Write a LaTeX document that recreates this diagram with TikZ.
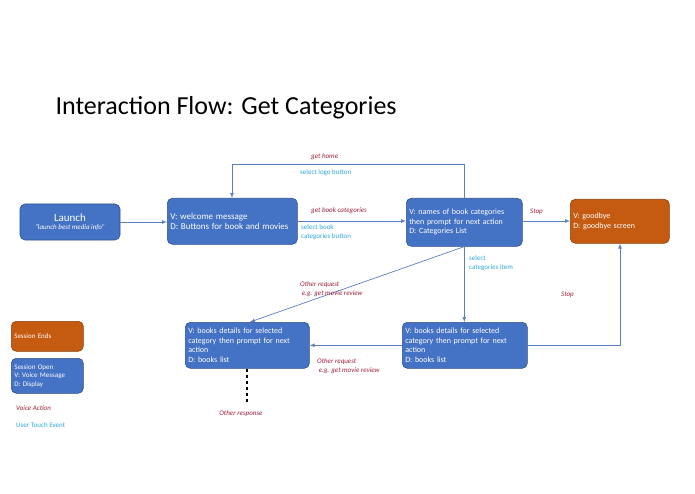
\documentclass[tikz,border=0pt]{standalone}
\usepackage{fontspec}
\setmainfont{Carlito}
\begin{document}
\definecolor{bx}{HTML}{4472C4}
\definecolor{org}{HTML}{C55A11}
\definecolor{ln}{HTML}{5B7FC4}
\definecolor{va}{HTML}{A0203A}
\definecolor{ut}{HTML}{2EA8D8}
\begin{tikzpicture}[x=1pt,y=-1pt,
  box/.style={draw=bx!70!black,line width=0.6pt,fill=bx,rounded corners=5pt,text=white,font=\fontsize{8}{9.5}\selectfont,align=left,inner sep=3pt,anchor=north west},
  obox/.style={box,fill=org,draw=org!70!black},
  arr/.style={draw=ln,line width=0.7pt,-latex},
  va/.style={text=va,font=\fontsize{7}{9}\selectfont\itshape,align=left,inner sep=0pt},
  ut/.style={text=ut,font=\fontsize{7}{9}\selectfont,align=left,inner sep=0pt}]
\useasboundingbox (0,0) rectangle (695,494);
\node[anchor=west,font=\fontsize{26}{30}\selectfont] (title) at (52,108) {Interaction Flow: Get Categories};
\node[box,minimum width=100pt,minimum height=36pt,align=center,anchor=center] (launch) at (70,222) {{\fontsize{11}{13}\selectfont Launch}\\[-1pt]{\fontsize{7}{8}\selectfont\itshape ``launch best media info''}};
\node[box,text width=124pt,minimum height=46pt] (wel) at (167,198) {{\fontsize{9}{11}\selectfont V: welcome message\\D: Buttons for book and movies}};
\node[box,text width=110pt,minimum height=48pt] (cat) at (406,198) {V: names of book categories\\then prompt for next action\\D: Categories List};
\node[obox,text width=93pt,minimum height=44pt] (bye) at (570,199) {V: goodbye\\D: goodbye screen};
\node[box,text width=119pt,minimum height=46pt] (b2) at (402,322) {V: books details for selected\\category then prompt for next\\action\\D: books list};
\node[box,text width=118pt,minimum height=46pt] (b1) at (185,322) {V: books details for selected\\category then prompt for next\\action\\D: books list};
\node[obox,text width=66pt,minimum height=30pt,anchor=north west,font=\fontsize{7}{9}\selectfont] (se) at (11,321) {Session Ends};
\node[box,text width=66pt,minimum height=35pt,font=\fontsize{7}{8.5}\selectfont] (so) at (11,358) {Session Open\\V: Voice Message\\D: Display};
\node[va,anchor=west] (lva) at (16,408) {Voice Action};
\node[ut,anchor=west] (lut) at (16,425) {User Touch Event};
\coordinate (r) at (b1.south);
\coordinate (od) at (247,402);
\draw[arr] (launch.east) -- (wel.west|-launch.east);
\draw[arr] (wel.east|-0,221) -- (cat.west|-0,221);
\draw[arr] (cat.north) -- ++(0,-34) -| (232,198);
\draw[arr] (cat.east|-0,221) -- (bye.west|-0,221);
\draw[arr] (cat.south) -- (b2.north-|cat.south);
\draw[arr] (cat.south) -- (250,322);
\draw[arr] (b2.west) -- (b1.east);
\draw[arr] (b2.east) -| (bye.south-|620,0);
\draw[line width=1.2pt,dashed] (b1.south-|247,0) -- (od);
\node[va,anchor=north] (or) at (241,410) {Other response};
\node[va,anchor=west] (gh) at (311,157) {get home};
\node[ut,anchor=west] (sl) at (300,173) {select logo button};
\node[va,anchor=west] (gb) at (311,211) {get book categories};
\node[ut,anchor=north west] (sb) at (301,224) {select book\\categories button};
\node[va,anchor=west] (s1) at (530,212) {Stop};
\node[ut,anchor=north west] (sc) at (469,255) {select\\categories item};
\node[va,anchor=north west] (o1) at (300,281) {Other request\\\ e.g. get movie review};
\node[va,anchor=west] (s2) at (561,295) {Stop};
\node[va,anchor=north west] (o2) at (317,358) {Other request\\\ e.g. get movie review};
\end{tikzpicture}
\end{document}
